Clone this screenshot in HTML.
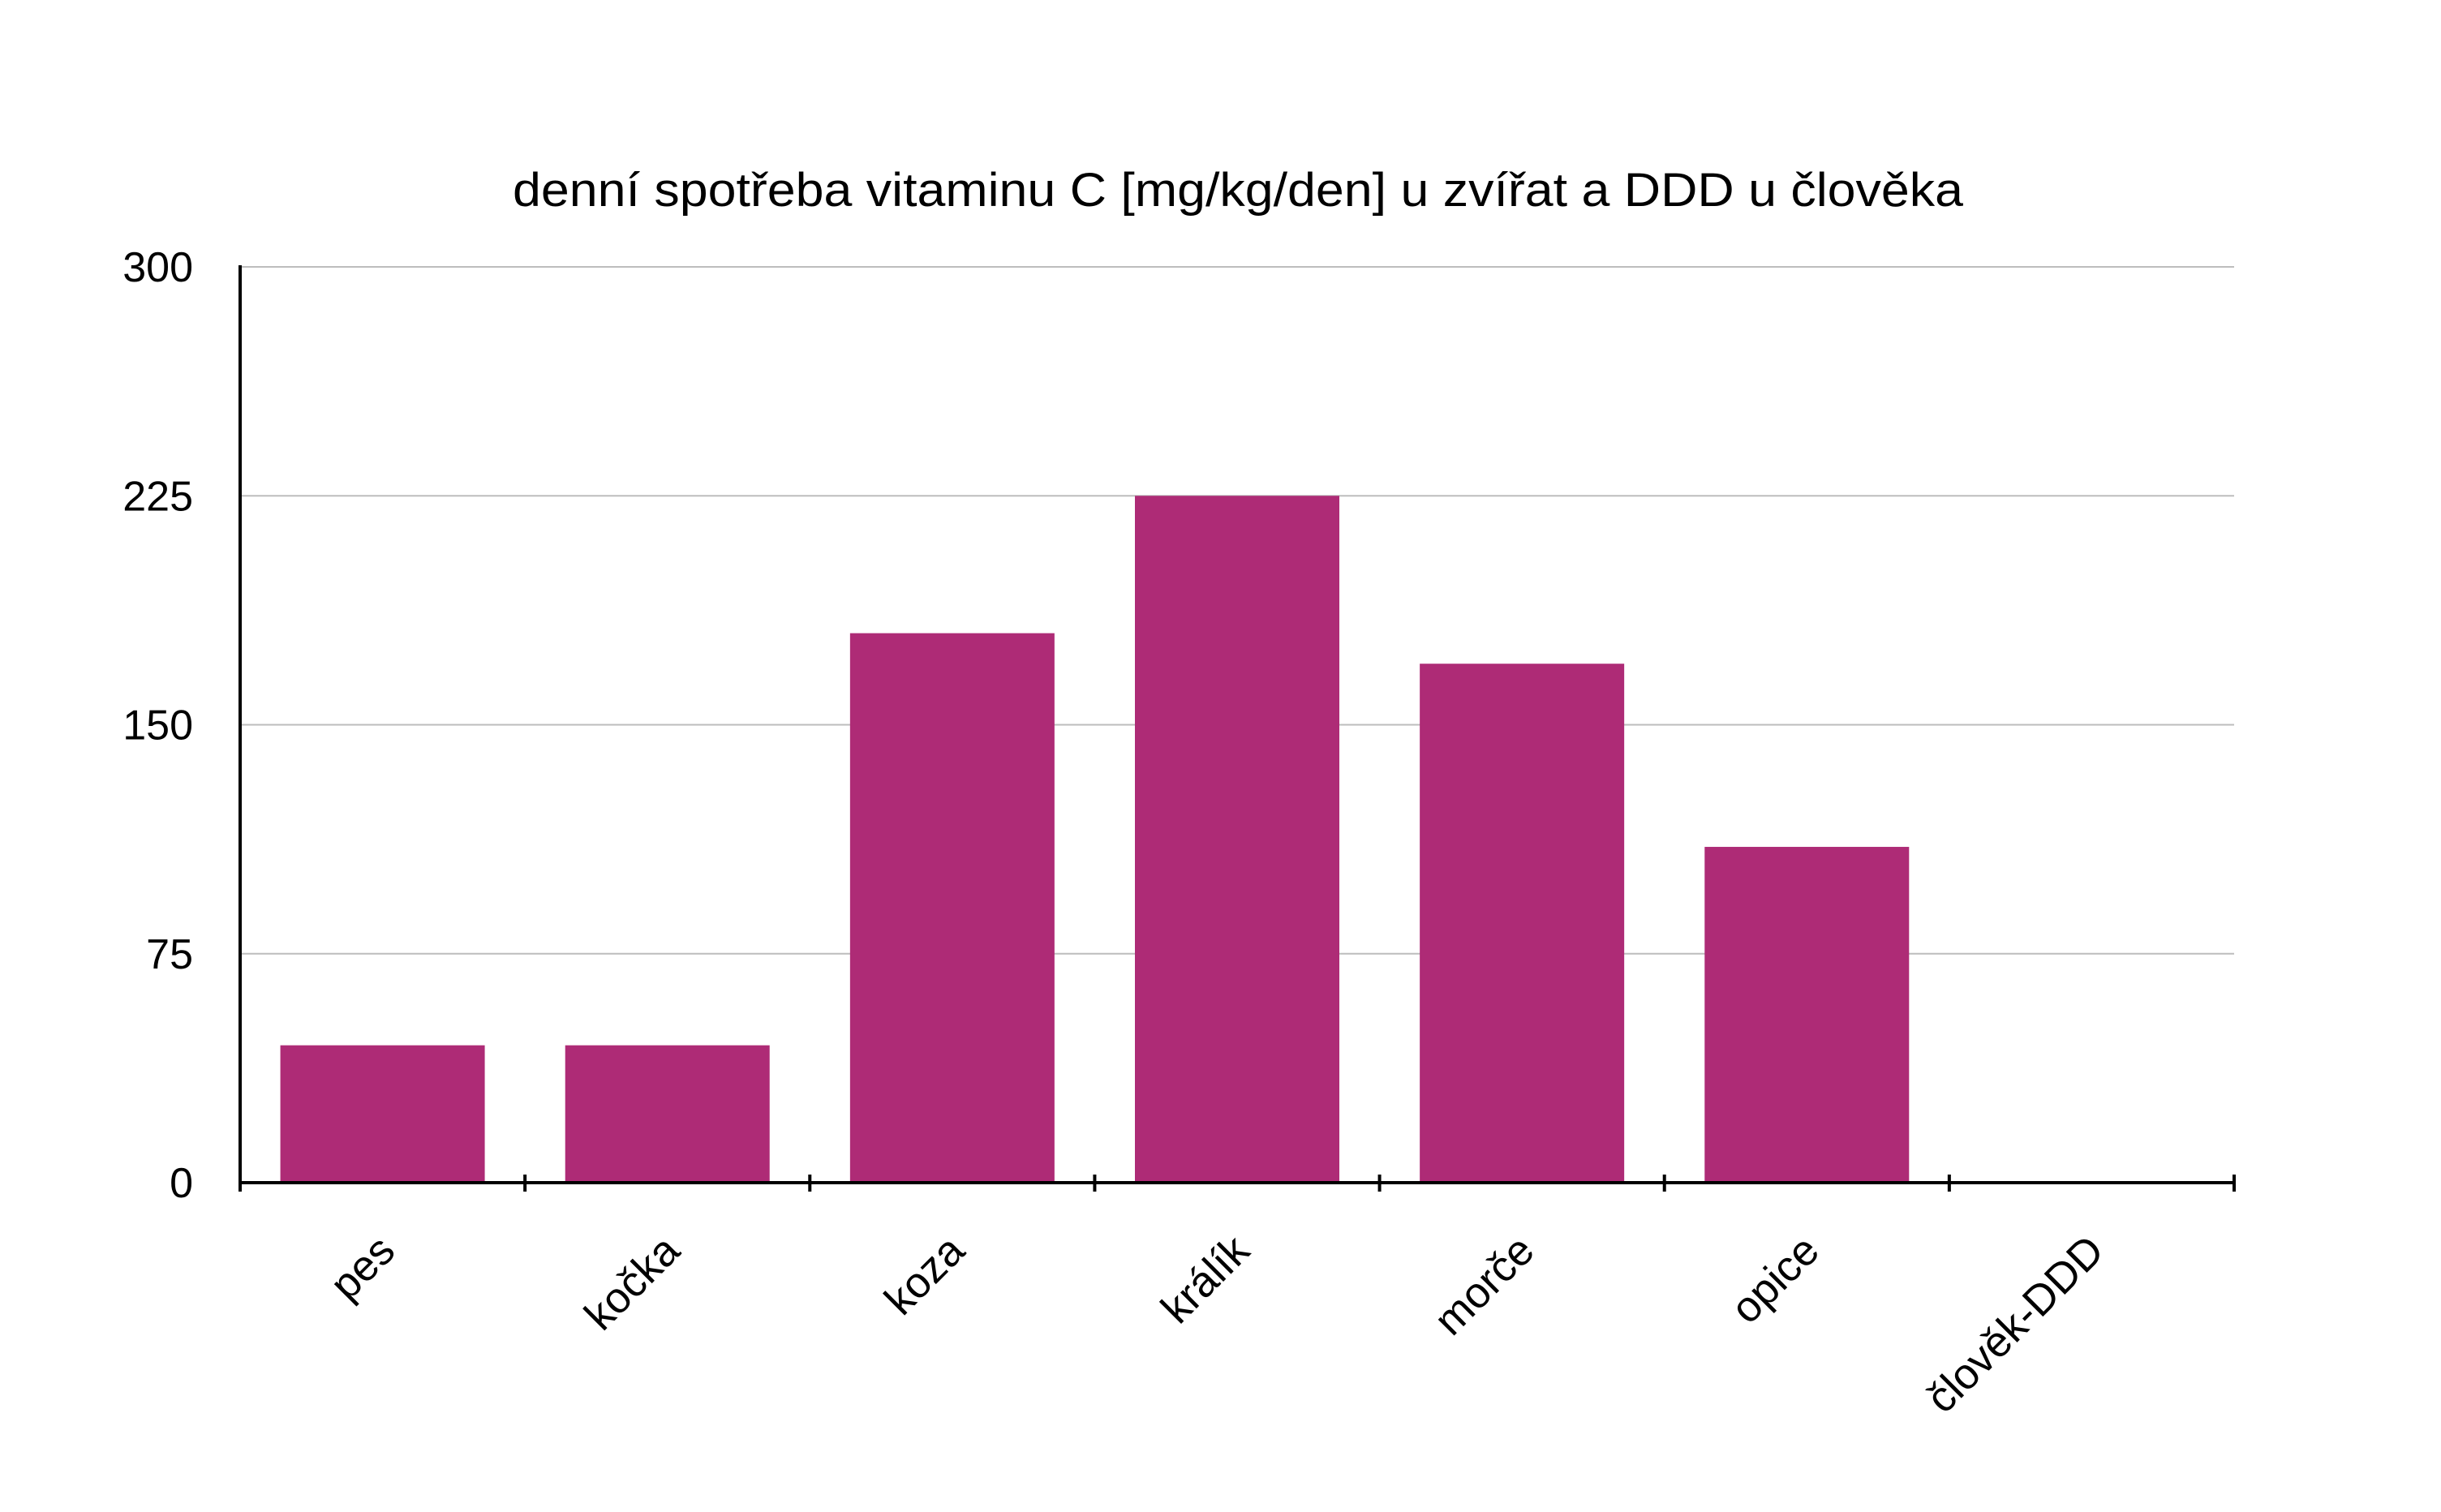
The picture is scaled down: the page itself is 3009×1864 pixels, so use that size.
<!DOCTYPE html>
<html><head><meta charset="utf-8"><style>
html,body{margin:0;padding:0;background:#fff;}
svg{display:block;font-family:"Liberation Sans",Arial,sans-serif;}
</style></head><body>
<svg id="chart" width="3009" height="1864" viewBox="0 0 3009 1864" xmlns="http://www.w3.org/2000/svg">
<rect width="3009" height="1864" fill="#fff"/>
<text x="1526" y="254" font-size="58" text-anchor="middle" textLength="1788" lengthAdjust="spacingAndGlyphs" fill="#000">denní spotřeba vitaminu C [mg/kg/den] u zvířat a DDD u člověka</text>
<g id="grid"></g><g id="bars"></g><g id="axes"></g><g id="labels"></g>
</svg>
<script>
const categories = ["pes","kočka","koza","králík","morče","opice","člověk-DDD"];
const values = [45, 45, 180, 225, 170, 110, 0];
const yTicks = [0, 75, 150, 225, 300];
const yTickLabels = ["0","75","150","225","300"];

const NS = "http://www.w3.org/2000/svg";
const L = 296, R = 2754, T = 329, B = 1458, YMAX = 300;
const band = (R - L) / categories.length;
const barW = 252;
function y(v){ return B - (v / YMAX) * (B - T); }
function xBand(i){ return L + i * band; }
function mk(tag, attrs, parent){
  const e = document.createElementNS(NS, tag);
  for (const k in attrs) e.setAttribute(k, attrs[k]);
  parent.appendChild(e); return e;
}
const grid = document.getElementById('grid'), bars = document.getElementById('bars'),
      axes = document.getElementById('axes'), labels = document.getElementById('labels');

yTicks.forEach((t, i) => {
  if (t !== 0) {
    const g = mk('line', {x1: L, x2: R, y1: y(t), y2: y(t), stroke: '#bdbdbd', 'stroke-width': 2}, grid);
    
    
  }
  const tl = mk('text', {x: 238, y: y(t) + 18, 'font-size': 52, 'text-anchor': 'end', fill: '#000'}, labels);
  tl.textContent = yTickLabels[i];
  
  
});

values.forEach((v, i) => {
  const cx = xBand(i) + band / 2;
  if (v > 0) {
    const r = mk('rect', {x: cx - barW / 2, y: y(v), width: barW, height: B - y(v), fill: '#AE2B76'}, bars);
    
    
  }
  const lab = mk('text', {x: cx + 18, y: 1545, 'font-size': 53, 'text-anchor': 'end', fill: '#000',
    transform: 'rotate(-45 ' + (cx + 18) + ' 1545)'}, labels);
  lab.textContent = categories[i];
  
  
});

for (let i = 0; i <= categories.length; i++) {
  const tk = mk('line', {x1: xBand(i), x2: xBand(i), y1: 1448, y2: 1469, stroke: '#000', 'stroke-width': 4}, axes);
  
  
}
const ya = mk('line', {x1: L, x2: L, y1: T - 2, y2: B + 2, stroke: '#000', 'stroke-width': 4}, axes);


const xa = mk('line', {x1: L - 2, x2: R + 2, y1: B, y2: B, stroke: '#000', 'stroke-width': 4}, axes);


</script>
</body></html>
